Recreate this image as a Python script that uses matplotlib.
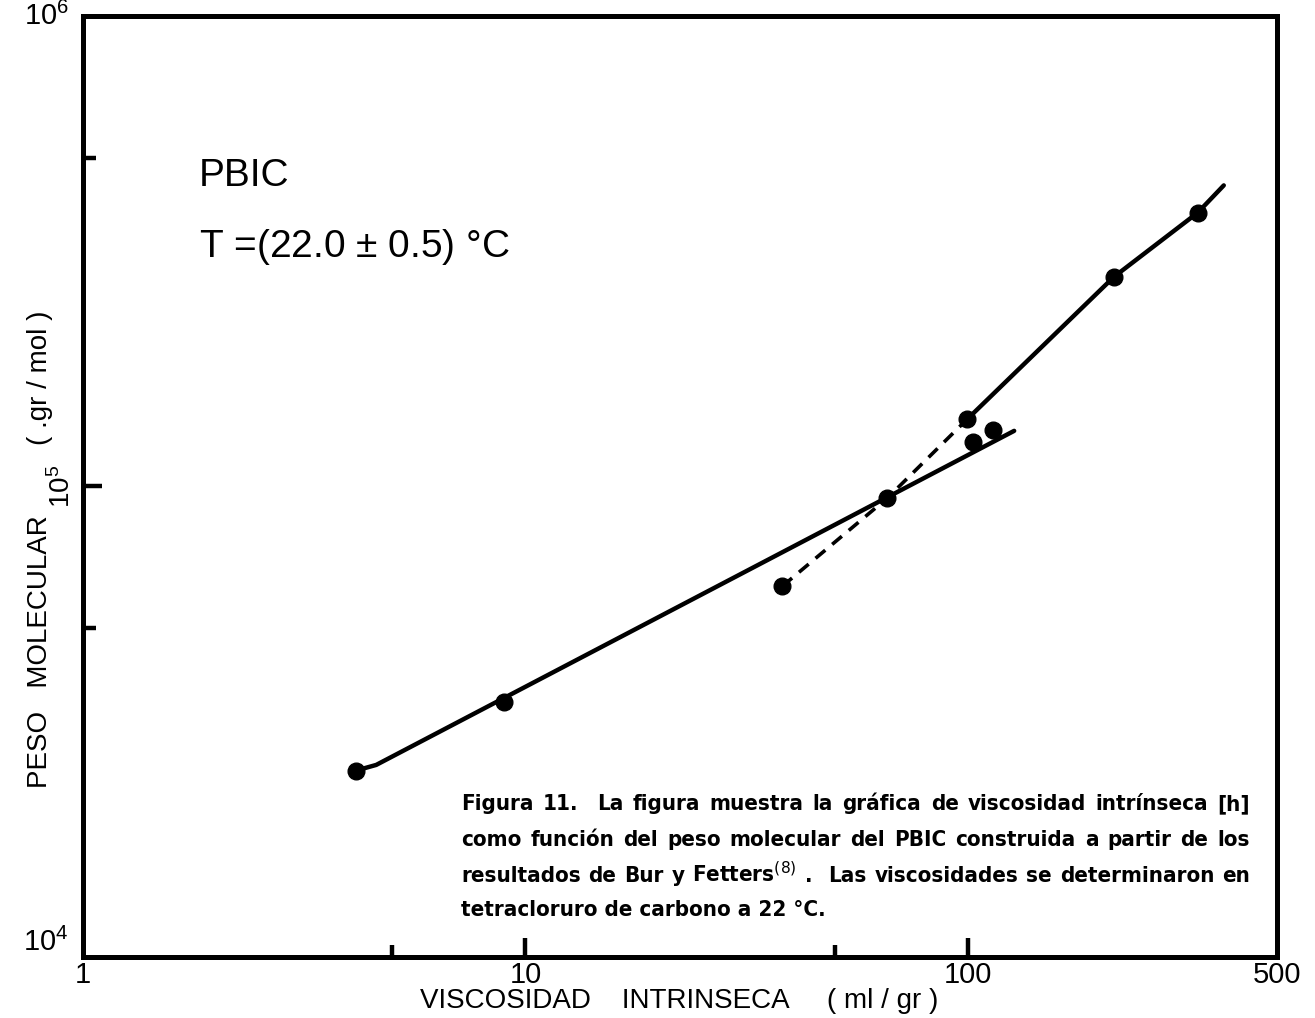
import matplotlib
matplotlib.use("Agg")
import matplotlib.pyplot as plt
from matplotlib import font_manager
from matplotlib.transforms import blended_transform_factory
from matplotlib.ticker import FixedLocator, NullFormatter

# intrinsic viscosity (ml/gr) vs molecular weight (gr/mol), PBIC
visc = [4.14, 8.93, 38.1, 65.8, 99.7, 102.8, 114.1, 214.0, 331.0]
peso = [24900, 34900, 61400, 94500, 139000, 124400, 131900, 279000, 382000]

# hand drawn fits
low_x = [4.14, 4.6, 127.3]
low_y = [24900, 25600, 131300]
high_x = [99.7, 214.0, 331.0, 379.0]
high_y = [139000, 279000, 382000, 436500]
dash_x = [38.1, 65.8, 99.7]
dash_y = [61400, 94500, 139000]

xticks = [1, 10, 100, 500]
xtick_labels = ["1", "10", "100", "500"]
xminor = [5, 50]
yminor = [5e4, 5e5]

caption = [
    "Figura 11.  La figura muestra la gráfica de viscosidad intrínseca [h]",
    "como función del peso molecular del PBIC construida a partir de los",
    "resultados de Bur y Fetters$^{(8)}$ .  Las viscosidades se determinaron en",
    "tetracloruro de carbono a 22 °C.",
]

thin = ["Liberation Sans", "DejaVu Sans"]

# pick a narrow bold face for the caption if one is around
fonts = font_manager.fontManager.ttflist
names = {f.name for f in fonts}
cap_stretch = "normal"
if "Liberation Sans Narrow" in names:
    cap_family = ["Liberation Sans Narrow", "DejaVu Sans"]
    cap_size = 17.5
elif any(f.name == "DejaVu Sans" and f.stretch == "condensed" for f in fonts):
    cap_family = ["DejaVu Sans"]
    cap_stretch = "condensed"
    cap_size = 16
else:
    cap_family = ["DejaVu Sans"]
    cap_size = 13

fig = plt.figure(figsize=(13.15, 10.18), dpi=100)
ax = fig.add_axes([83 / 1315, 61 / 1018, 1194 / 1315, 941 / 1018])
ax.set_xscale("log")
ax.set_yscale("log")
ax.set_xlim(1, 500)
ax.set_ylim(1e4, 1e6)

for s in ax.spines.values():
    s.set_linewidth(3.6)
    s.set_capstyle("projecting")

ax.plot(low_x, low_y, color="black", lw=3.2, solid_capstyle="round")
ax.plot(high_x, high_y, color="black", lw=3.2, solid_capstyle="round")
ax.plot(dash_x, dash_y, color="black", lw=2.6, ls=(0, (3.5, 2.5)))
ax.plot(visc, peso, "o", color="black", ms=12, zorder=5)

# ticks point inward, labels placed by hand
ax.xaxis.set_major_locator(FixedLocator([10, 100]))
ax.xaxis.set_minor_locator(FixedLocator(xminor))
ax.yaxis.set_major_locator(FixedLocator([1e5]))
ax.yaxis.set_minor_locator(FixedLocator(yminor))
for axis in (ax.xaxis, ax.yaxis):
    axis.set_major_formatter(NullFormatter())
    axis.set_minor_formatter(NullFormatter())
ax.tick_params(which="major", direction="in", length=14, width=3.2)
ax.tick_params(which="minor", direction="in", length=9, width=3.2)

xlab_trans = blended_transform_factory(ax.transData, fig.transFigure)
for v, lab in zip(xticks, xtick_labels):
    ax.text(v, 1 - 961 / 1018, lab, transform=xlab_trans, ha="center", va="top",
            fontsize=21, family=thin)

ax.text(-0.012, 1.0, "$\\mathregular{10^6}$", transform=ax.transAxes, ha="right", va="center",
        fontsize=21, family=thin)
ax.text(-0.012, 0.015, "$\\mathregular{10^4}$", transform=ax.transAxes, ha="right", va="center",
        fontsize=21, family=thin)
ax.text(-0.006, 1e5, "$\\mathregular{10^5}$", transform=ax.get_yaxis_transform(), ha="right",
        va="center", rotation=90, fontsize=20, family=thin)

fig.text(679 / 1315, 1 - 1001 / 1018, "VISCOSIDAD    INTRINSECA     ( ml / gr )",
         ha="center", va="center", fontsize=20, family=thin)
fig.text(40 / 1315, 1 - 652 / 1018, "PESO   MOLECULAR", ha="center", va="center",
         rotation=90, fontsize=20, family=thin)
fig.text(40 / 1315, 1 - 378 / 1018, "( .gr / mol )", ha="center", va="center",
         rotation=90, fontsize=20, family=thin)

ax.text(0.097, 0.83, "PBIC", transform=ax.transAxes, fontsize=28, family=thin, va="center")
ax.text(0.097, 0.755, "T =(22.0 $\\mathregular{\\pm}$ 0.5) °C", transform=ax.transAxes,
        fontsize=28, family=thin, va="center")

# justified caption block; a double space counts as two gaps
fig.canvas.draw()
renderer = fig.canvas.get_renderer()
x0, x1 = 461, 1250
baselines = [810, 846, 882, 916]
style = dict(fontsize=cap_size, family=cap_family, fontstretch=cap_stretch,
             weight="bold", va="baseline")
for i, line in enumerate(caption):
    y = 1 - baselines[i] / 1018
    if i == len(caption) - 1:
        fig.text(x0 / 1315, y, line, **style)
        continue
    parts = line.split(" ")
    words, spans = [], []
    for p in parts:
        if p:
            words.append(p)
            spans.append(1)
        elif spans:
            spans[-1] += 1
    arts = [fig.text(0, y, w, **style) for w in words]
    widths = [a.get_window_extent(renderer).width for a in arts]
    gap = (x1 - x0 - sum(widths)) / sum(spans[:-1])
    x = x0
    for a, w, n in zip(arts, widths, spans):
        a.set_x(x / 1315)
        x += w + gap * n

fig.savefig("out.png", dpi=100, facecolor="white")
